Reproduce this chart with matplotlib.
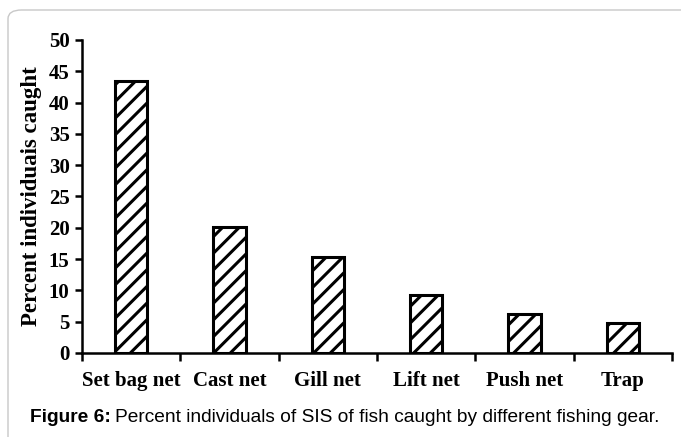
import matplotlib
matplotlib.use("Agg")
import matplotlib.pyplot as plt
from matplotlib.patches import FancyBboxPatch

# data
gears = ["Set bag net", "Cast net", "Gill net", "Lift net", "Push net", "Trap"]
percent = [43.4, 20.2, 15.3, 9.3, 6.2, 4.8]
y_ticks = [0, 5, 10, 15, 20, 25, 30, 35, 40, 45, 50]

W, H = 681, 437
fig = plt.figure(figsize=(W / 100, H / 100), dpi=100)

# rounded frame round the figure (right and bottom run off the page)
frame = FancyBboxPatch((8 / W, -0.2), 1.2, 1.2 - 10 / H,
                       boxstyle="round,pad=0,rounding_size=0.02",
                       transform=fig.transFigure, fill=False,
                       edgecolor="#c8c8c8", linewidth=1.0, clip_on=False)
fig.patches.append(frame)

ax = fig.add_axes([82 / W, 1 - 353 / H, (672 - 82) / W, (353 - 40) / H])

plt.rcParams['hatch.linewidth'] = 2.2
x = list(range(len(gears)))
ax.bar(x, percent, width=0.33, color="white", edgecolor="black",
       linewidth=2.2, hatch="//")

ax.set_xlim(-0.5, len(gears) - 0.5)
ax.set_ylim(0, 50)
ax.set_yticks(y_ticks)
ax.set_xticks([i - 0.5 for i in range(len(gears) + 1)])
ax.set_xticklabels([])
ax.set_xticks(x, minor=True)
ax.set_xticklabels(gears, minor=True)
ax.tick_params(axis="x", which="minor", length=0, pad=13)
ax.tick_params(axis="x", which="major", length=6, width=1.8, direction="out")
ax.tick_params(axis="y", length=5, width=1.8, direction="out", pad=4)

for lab in ax.get_xticklabels(minor=True) + ax.get_yticklabels():
    lab.set_fontfamily("Liberation Serif")
    lab.set_fontweight("bold")
    lab.set_fontsize(15)

ax.set_ylabel("Percent individuais caught", family="Liberation Serif",
              fontweight="bold", fontsize=16.5, labelpad=5)

for side in ["top", "right"]:
    ax.spines[side].set_visible(False)
ax.spines["left"].set_linewidth(1.8)
ax.spines["bottom"].set_linewidth(1.8)

# caption: bold part then the rest
cap_y = 1 - 417 / H
t1 = fig.text(30 / W, cap_y, "Figure 6:", fontsize=13.8, fontweight="bold",
              family="Liberation Sans", va="center", ha="left")
fig.canvas.draw()
bb = t1.get_window_extent()
fig.text((bb.x1 + 4) / W, cap_y,
         "Percent individuals of SIS of fish caught by different fishing gear.",
         fontsize=13.8, family="Liberation Sans", va="center", ha="left")

fig.savefig("out.png", dpi=100)
